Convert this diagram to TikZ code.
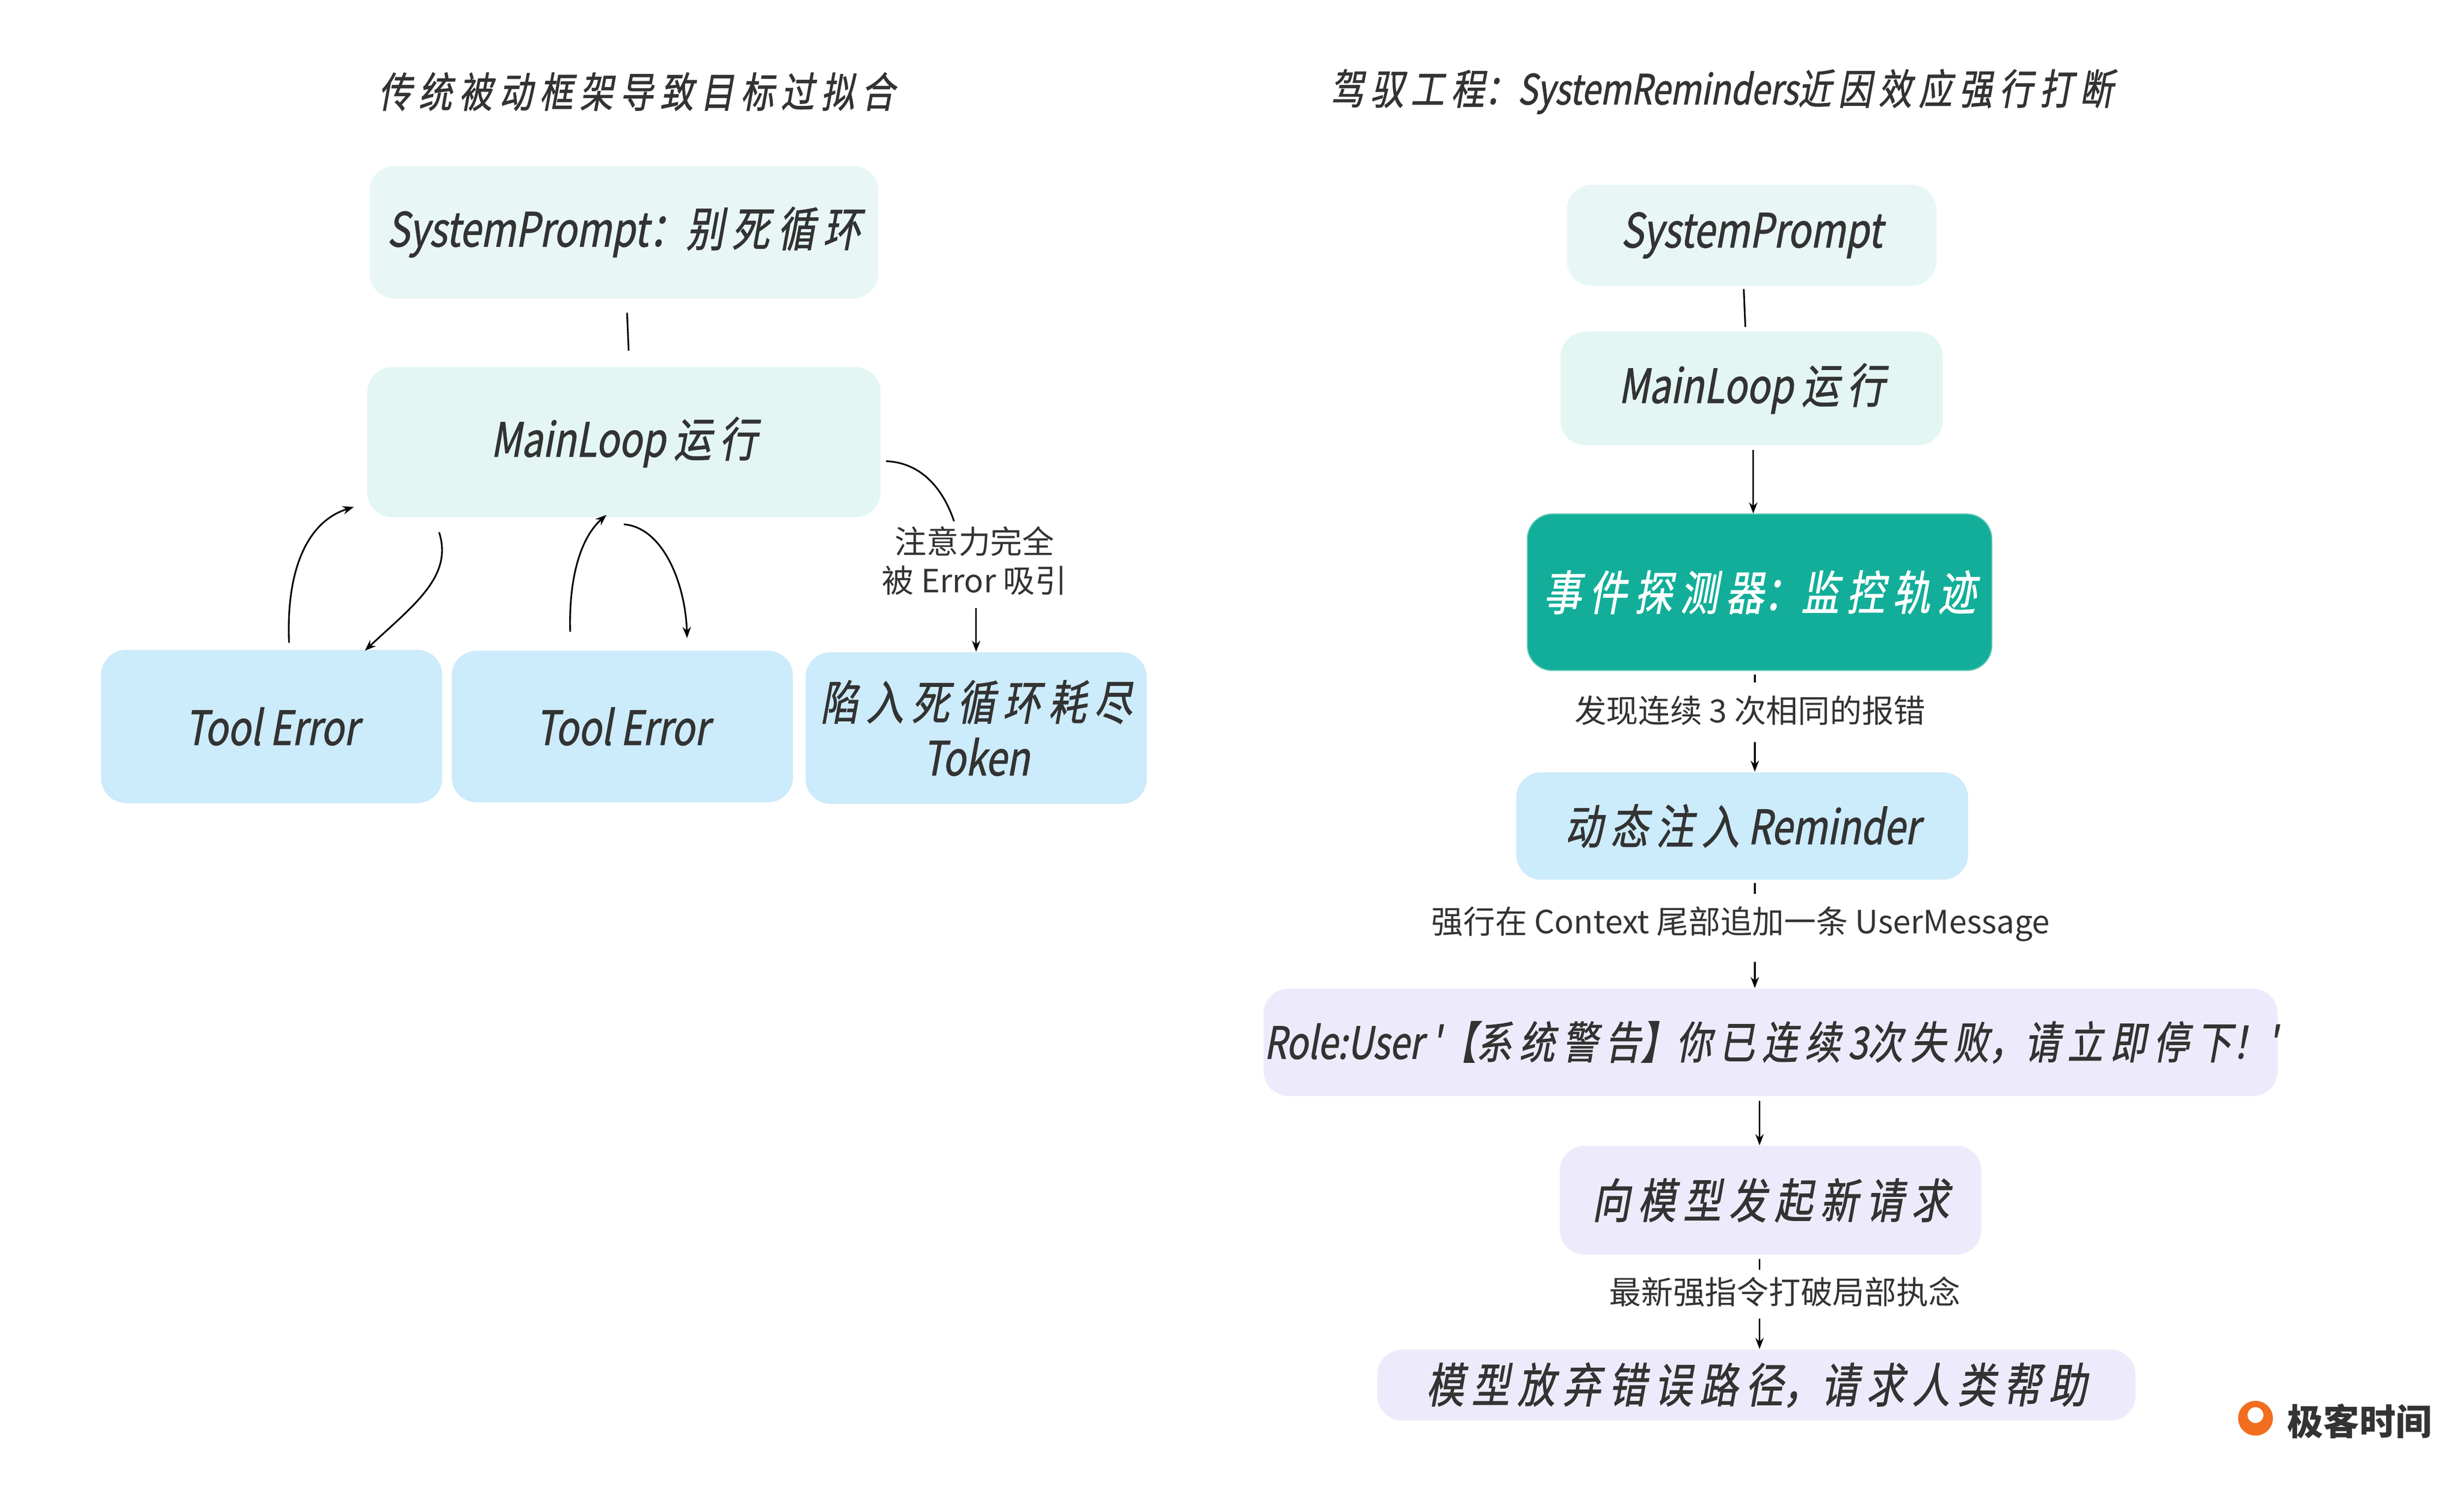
\documentclass[tikz,border=0pt]{standalone}
\usepackage{fontspec}
\setmainfont{Noto Sans CJK SC}
\newfontfamily\boxf[FakeSlant=0.18,FakeStretch=0.8,FakeBold=1.2]{Noto Sans CJK SC}
\usetikzlibrary{arrows.meta}
\definecolor{tx}{HTML}{333333}
\definecolor{cA}{HTML}{E8F7F6}
\definecolor{cB}{HTML}{E3F6F3}
\definecolor{cC}{HTML}{CCEBFB}
\definecolor{cD}{HTML}{EDEBFB}
\definecolor{cE}{HTML}{13AE99}
\definecolor{cEd}{HTML}{5AC8B4}
\definecolor{cO}{HTML}{F06E1E}
\begin{document}
\begin{tikzpicture}[x=0.02cm,y=-0.02cm,
  bx/.style={rounded corners=9pt,inner sep=0pt,text=tx,font=\boxf\fontsize{17}{20}\selectfont,align=center},
  lb/.style={text=tx,font=\fontsize{11.5}{14}\selectfont,align=center,inner sep=1pt},
  ar/.style={-{Stealth[length=4pt,width=3pt]},line width=0.6pt},
  ln/.style={line width=0.6pt}]
\useasboundingbox (0,0) rectangle (1560,947);
\fill[white] (0,0) rectangle (1560,947);
\node[text=tx,font=\boxf\fontsize{15}{18}\selectfont] (t1) at (403,58) {传\,统\,被\,动\,框\,架\,导\,致\,目\,标\,过\,拟\,合};
\node[text=tx,font=\boxf\fontsize{15}{18}\selectfont] (t2) at (1090,58) {驾\,驭\,工\,程：SystemReminders近\,因\,效\,应\,强\,行\,打\,断};
% left
\node[bx,fill=cA,minimum width=322*0.02cm,minimum height=84*0.02cm] (sp1) at (395,147) {SystemPrompt：别\,死\,循\,环};
\node[bx,fill=cB,minimum width=325*0.02cm,minimum height=95*0.02cm] (ml1) at (395,280) {MainLoop 运\,行};
\node[bx,fill=cC,minimum width=216*0.02cm,minimum height=97*0.02cm] (te1) at (172,460) {Tool Error};
\node[bx,fill=cC,minimum width=216*0.02cm,minimum height=96*0.02cm] (te2) at (394,460) {Tool Error};
\node[bx,fill=cC,minimum width=216*0.02cm,minimum height=96*0.02cm] (tk) at (618,461) {陷\,入\,死\,循\,环\,耗\,尽\\Token};
\draw[ln] (397,198) coordinate (a1) -- (398,222) coordinate (a2);
\coordinate (b1) at (183,407); \coordinate (b2) at (224,321);
\draw[ar] (b1) .. controls (181,360) and (195,330) .. (b2);
\coordinate (c1) at (278,337); \coordinate (c2) at (231,412);
\draw[ar] (c1) .. controls (287,365) and (262,383) .. (c2);
\coordinate (d1) at (361,400); \coordinate (d2) at (384,326);
\draw[ar] (d1) .. controls (360,365) and (368,340) .. (d2);
\coordinate (e1) at (395,332); \coordinate (e2) at (435,404);
\draw[ar] (e1) .. controls (420,334) and (434,370) .. (e2);
\node[lb] (l0) at (617,355) {注意力完全\\被 Error 吸引};
\coordinate (m1) at (561,292);
\draw[ln] (m1) .. controls (585,293) and (598,312) .. (604,330);
\coordinate (m2) at (618,385);
\draw[ar] (m2) -- (m2 |- tk.north);
% right
\node[bx,fill=cA,minimum width=234*0.02cm,minimum height=64*0.02cm] (sp2) at (1109,149) {SystemPrompt};
\node[bx,fill=cB,minimum width=242*0.02cm,minimum height=72*0.02cm] (ml2) at (1109,246) {MainLoop 运\,行};
\node[bx,fill=cE,draw=cEd,text=white,minimum width=294*0.02cm,minimum height=99*0.02cm] (ev) at (1114,375) {事\,件\,探\,测\,器：监\,控\,轨\,迹};
\node[bx,fill=cC,minimum width=286*0.02cm,minimum height=68*0.02cm] (rm) at (1103,523) {动\,态\,注\,入 Reminder};
\node[bx,fill=cD,minimum width=642*0.02cm,minimum height=68*0.02cm,font=\boxf\fontsize{16}{20}\selectfont] (ro) at (1121,660) {Role:User '【系\,统\,警\,告】你\,已\,连\,续\,3次\,失\,败，请\,立\,即\,停\,下！'};
\node[bx,fill=cD,minimum width=267*0.02cm,minimum height=69*0.02cm] (rq) at (1121,760) {向\,模\,型\,发\,起\,新\,请\,求};
\node[bx,fill=cD,minimum width=480*0.02cm,minimum height=45*0.02cm] (fn) at (1112,877) {模\,型\,放\,弃\,错\,误\,路\,径，请\,求\,人\,类\,帮\,助};
\draw[ln] (1104,183) coordinate (f1) -- (1105,207) coordinate (f2);
\coordinate (g1) at (1110,285);
\draw[ar] (g1) -- (g1 |- ev.north);
\node[lb] (l1) at (1108,450) {发现连续 3 次相同的报错};
\node[lb] (l2) at (1102,585) {强行在 Context 尾部追加一条 UserMessage};
\node[lb] (l3) at (1130,818) {最新强指令打破局部执念};
\draw[ln] (1111,427) coordinate (h1) -- (1111,432);
\coordinate (h2) at (1111,470);
\draw[ar] (h2) -- (h2 |- rm.north);
\draw[ln] (1111,559) coordinate (i1) -- (1111,566);
\coordinate (i2) at (1111,609);
\draw[ar] (i2) -- (i2 |- ro.north);
\coordinate (j1) at (1114,697);
\draw[ar] (j1) -- (j1 |- rq.north);
\draw[ln] (1114,797) coordinate (k1) -- (1114,804);
\coordinate (k2) at (1114,835);
\draw[ar] (k2) -- (k2 |- fn.north);
% logo
\fill[cO] (1428,898) circle (11);
\fill[white] (1428,896) circle (5);
\node[text=tx,font=\fontsize{13}{16}\selectfont\bfseries,anchor=west] (logo) at (1442,900) {极客时间};
\end{tikzpicture}
\end{document}
